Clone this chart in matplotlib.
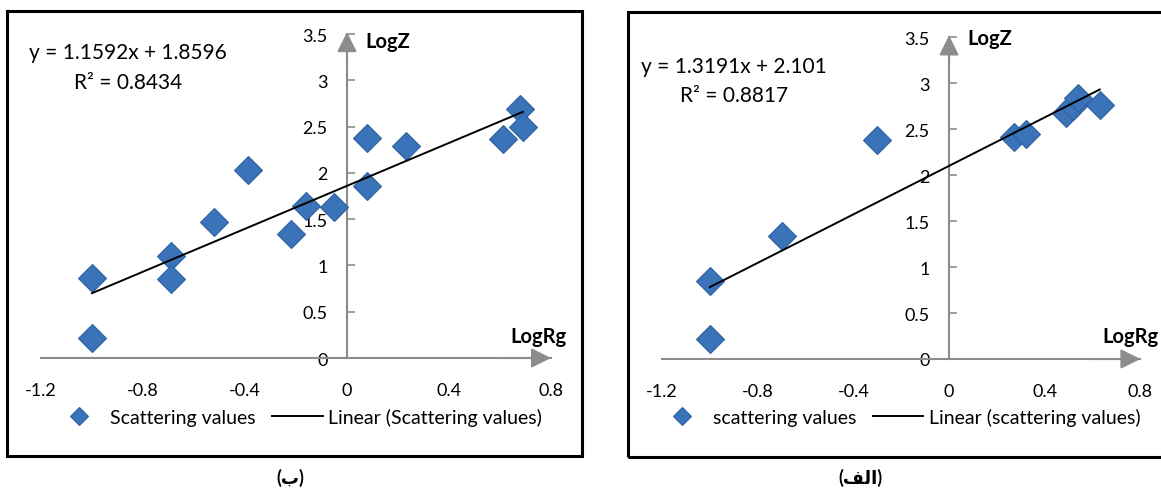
import matplotlib
matplotlib.use("Agg")
import matplotlib.pyplot as plt
from matplotlib.patches import Rectangle
import numpy as np

plt.rcParams['font.family'] = ['Lato', 'DejaVu Sans']

# panel (ب) - left
left_x = [-1.0, -1.0, -0.69, -0.69, -0.52, -0.39, -0.22, -0.16, -0.05, 0.08, 0.08, 0.23, 0.61, 0.68, 0.69]
left_y = [0.86, 0.22, 1.10, 0.85, 1.47, 2.03, 1.34, 1.64, 1.63, 2.38, 1.86, 2.29, 2.37, 2.69, 2.49]
left_fit = [1.1592, 1.8596]
left_r2 = 0.8434

# panel (الف) - right
right_x = [-1.0, -1.0, -0.70, -0.30, 0.27, 0.32, 0.49, 0.52, 0.54, 0.63]
right_y = [0.85, 0.22, 1.34, 2.38, 2.42, 2.45, 2.68, 2.75, 2.84, 2.76]
right_fit = [1.3191, 2.101]
right_r2 = 0.8817

xticks = [-1.2, -0.8, -0.4, 0, 0.4, 0.8]
yticks = [0, 0.5, 1, 1.5, 2, 2.5, 3, 3.5]

W, H = 1161, 489
fig = plt.figure(figsize=(W / 100, H / 100), dpi=100)

gray = '#8c8c8c'
blue = '#3b73b9'


def px(x, y):
    return x / W, 1 - y / H


def panel(rect, xs, ys, fit, r2, eq_text, label, leg_anchor, eq_pos, r2_pos, logz_pos, logrg_pos):
    ax = fig.add_axes(rect)
    ax.set_xlim(-1.2, 0.8)
    ax.set_ylim(0, 3.5)
    ax.patch.set_alpha(0)
    for s in ['top', 'right']:
        ax.spines[s].set_visible(False)
    ax.spines['left'].set_position(('data', 0))
    ax.spines['bottom'].set_position(('data', 0))
    for s in ['left', 'bottom']:
        ax.spines[s].set_color(gray)
        ax.spines[s].set_linewidth(1.5)
    ax.set_xticks(xticks)
    ax.set_xticklabels(['-1.2', '-0.8', '-0.4', '0', '0.4', '0.8'])
    ax.set_yticks(yticks)
    ax.set_yticklabels(['0', '0.5', '1', '1.5', '2', '2.5', '3', '3.5'])
    ax.tick_params(axis='y', direction='in', length=6, width=1.2, color=gray, pad=14, labelsize=13)
    ax.tick_params(axis='x', length=0, pad=17, labelsize=13)

    arrow = dict(arrowstyle='-|>', color=gray, lw=1.5, mutation_scale=30, shrinkA=0, shrinkB=0)
    ax.annotate('', xy=(0, 3.52), xytext=(0, 3.2), arrowprops=arrow, annotation_clip=False)
    ax.annotate('', xy=(0.8, 0), xytext=(0.6, 0), arrowprops=arrow, annotation_clip=False)

    pts, = ax.plot(xs, ys, 'D', ms=14, color=blue, mec='#2f62a3', mew=0.8,
                   label=label, clip_on=False, zorder=3)
    fx = np.array([min(xs), max(xs)])
    line, = ax.plot(fx, fit[0] * fx + fit[1], color='black', lw=1.4, zorder=4,
                    label='Linear (' + label + ')')

    fig.text(*px(*eq_pos), eq_text, fontsize=15, va='center', ha='left')
    fig.text(*px(*r2_pos), 'R² = %.4f' % r2, fontsize=15, va='center', ha='left')
    fig.text(*px(*logz_pos), 'LogZ', fontsize=14.5, fontweight='bold', va='center', ha='left')
    fig.text(*px(*logrg_pos), 'LogRg', fontsize=14.5, fontweight='bold', va='center', ha='left')

    fig.legend(handles=[pts, line], loc='center left', bbox_to_anchor=px(*leg_anchor),
               ncol=2, frameon=False, fontsize=14, handlelength=2.6,
               handletextpad=0.3, columnspacing=0.85, markerscale=0.65)
    return ax


panel([41 / W, 130 / H, 510 / W, 324 / H], left_x, left_y, left_fit, left_r2,
      'y = 1.1592x + 1.8596', 'Scattering values', (36, 418),
      (29, 53), (74, 83), (365, 42), (510, 337))

panel([662 / W, 129 / H, 478.4 / W, 321.7 / H], right_x, right_y, right_fit, right_r2,
      'y = 1.3191x + 2.101', 'scattering values', (639, 418),
      (641, 67), (680, 96), (967, 39), (1102, 337))

# outer boxes
fig.patches.append(Rectangle(px(7, 457), 575 / W, 445 / H, transform=fig.transFigure,
                             fill=False, ec='black', lw=2.2))
fig.patches.append(Rectangle(px(628, 458), 540 / W, 445 / H, transform=fig.transFigure,
                             fill=False, ec='black', lw=2.2))

# captions (Arabic in visual order, presentation forms)
fig.text(*px(290, 478), '(\ufe8f)', fontsize=13, fontweight='bold', ha='center', va='center')
fig.text(*px(860, 478), '(\ufed2\ufedf\ufe8d)', fontsize=13, fontweight='bold', ha='center', va='center')

fig.savefig('out.png', dpi=100)
